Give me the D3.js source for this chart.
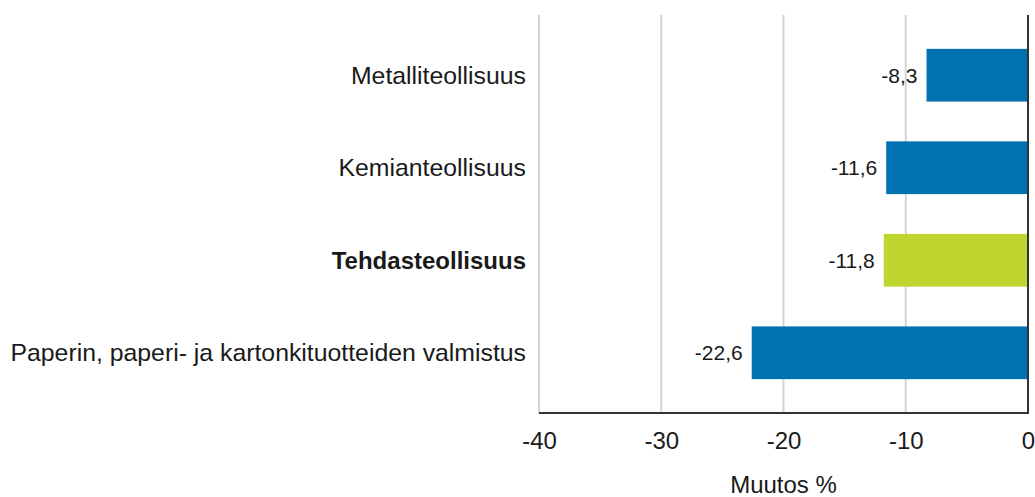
<!DOCTYPE html>
<html>
  <head>
    <meta charset="utf-8">
    <title>Muutos %</title>
    <style>
    body { margin: 0; background: #fff; }
    svg text { font-family: "Liberation Sans", Arial, sans-serif; fill: #1a1a1a; }
    .grid line { stroke: #d4d4d4; stroke-width: 2; }
    .axis--x path, .axis--x line { display: none; }
    </style>
  </head>
  <body>
    <svg width="1035" height="497"></svg>
    <script src="https://d3js.org/d3.v7.min.js"></script>
    <script>

      var categories = ["Metalliteollisuus", "Kemianteollisuus", "Tehdasteollisuus", "Paperin, paperi- ja kartonkituotteiden valmistus"];
      var values = [-8.3, -11.6, -11.8, -22.6];
      var highlight = ["Tehdasteollisuus"];
      var ticks = [-40, -30, -20, -10, 0];
      var axisTitle = "Muutos %";

      var svg = d3.select("svg"),
          margin = {top: 15, right: 7, bottom: 84, left: 539},
          width = +svg.attr("width") - margin.left - margin.right,
          height = +svg.attr("height") - margin.top - margin.bottom;

      var x = d3.scaleLinear().domain([-40, 0]).range([0, width]),
          y = d3.scaleBand().domain(categories).range([0, height]).paddingInner(0.43).paddingOuter(0.366);

      var g = svg.append("g")
          .attr("transform", "translate(" + margin.left + "," + margin.top + ")");

      // gridlines
      g.append("g")
          .attr("class", "grid")
        .selectAll("line")
        .data(ticks.slice(0, -1))
        .enter().append("line")
          .attr("x1", function(d) { return x(d); })
          .attr("x2", function(d) { return x(d); })
          .attr("y1", 0)
          .attr("y2", height);

      var data = categories.map(function(c, i) { return {name: c, value: values[i]}; });

      g.selectAll(".bar")
        .data(data)
        .enter().append("rect")
          .attr("class", "bar")
          .attr("x", function(d) { return x(d.value); })
          .attr("y", function(d) { return y(d.name); })
          .attr("width", function(d) { return x(0) - x(d.value); })
          .attr("height", y.bandwidth())
          .attr("fill", function(d) { return highlight.indexOf(d.name) >= 0 ? "#bed62f" : "#0072b1"; });

      // value labels
      g.selectAll(".val")
        .data(data)
        .enter().append("text")
          .attr("class", "val")
          .attr("x", function(d) { return x(d.value) - 9; })
          .attr("y", function(d) { return y(d.name) + y.bandwidth() / 2; })
          .attr("dy", "0.35em")
          .attr("text-anchor", "end")
          .style("font-size", "21px")
          .text(function(d) { return String(d.value).replace(".", ","); });

      // category labels
      g.selectAll(".cat")
        .data(data)
        .enter().append("text")
          .attr("class", "cat")
          .attr("x", -13)
          .attr("y", function(d) { return y(d.name) + y.bandwidth() / 2; })
          .attr("dy", "0.35em")
          .attr("text-anchor", "end")
          .style("font-size", function(d) { return highlight.indexOf(d.name) >= 0 ? "24px" : "24.8px"; })
          .style("font-weight", function(d) { return highlight.indexOf(d.name) >= 0 ? "bold" : "normal"; })
          .text(function(d) { return d.name; });

      // zero line and bottom axis line
      g.append("line")
          .attr("x1", x(0)).attr("x2", x(0))
          .attr("y1", 0).attr("y2", height)
          .attr("stroke", "#333").attr("stroke-width", 2);

      g.append("line")
          .attr("x1", x(-40)).attr("x2", x(0) + 1)
          .attr("y1", height).attr("y2", height)
          .attr("stroke", "#333").attr("stroke-width", 2);

      var xAxis = g.append("g")
          .attr("class", "axis axis--x")
          .attr("transform", "translate(0," + height + ")")
          .call(d3.axisBottom(x).tickValues(ticks).tickSize(0).tickPadding(19)
            .tickFormat(function(d) { return String(d); }));

      xAxis.selectAll("text")
          .style("font-size", "24px")
          .style("font-family", "'Liberation Sans', Arial, sans-serif")
          .attr("fill", "#1a1a1a");

      g.append("text")
          .attr("x", width / 2)
          .attr("y", height + 80)
          .attr("text-anchor", "middle")
          .style("font-size", "24px")
          .text(axisTitle);
    </script>
  </body>
</html>
